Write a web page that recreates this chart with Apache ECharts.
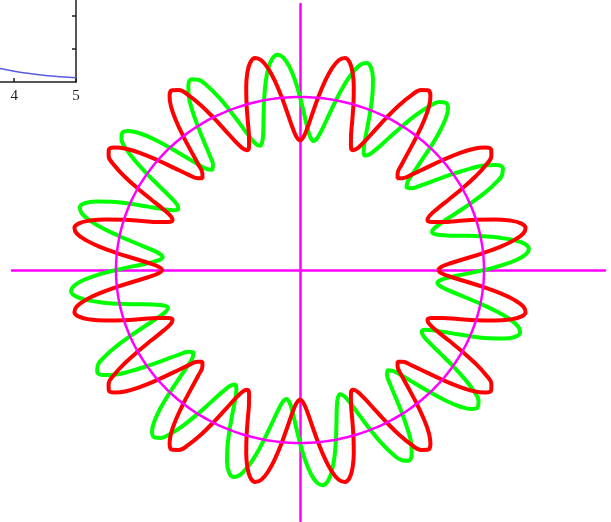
<!DOCTYPE html>
<html>
<head>
<meta charset="utf-8">
<script src="https://cdn.jsdelivr.net/npm/echarts@6/dist/echarts.min.js"></script>
<style>
  html, body { margin: 0; padding: 0; background: #fff; }
  #chart { width: 611px; height: 522px; }
</style>
</head>
<body>
<div id="chart"></div>
<script>
// radius of each curve, read every 1.40625 deg from 0 deg (16 samples per wave, 16 waves)
const angleStep = 1.40625;

const redRadius = [
    0.75, 0.769, 0.823, 0.904, 1, 1.096, 1.177, 1.231, 1.25, 1.231, 1.177, 1.096, 1, 0.904, 0.823, 0.769,
    0.75, 0.769, 0.823, 0.904, 1, 1.096, 1.177, 1.231, 1.25, 1.231, 1.177, 1.096, 1, 0.904, 0.823, 0.769,
    0.75, 0.769, 0.823, 0.904, 1, 1.096, 1.177, 1.231, 1.25, 1.231, 1.177, 1.096, 1, 0.904, 0.823, 0.769,
    0.75, 0.769, 0.823, 0.904, 1, 1.096, 1.177, 1.231, 1.25, 1.231, 1.177, 1.096, 1, 0.904, 0.823, 0.769,
    0.75, 0.769, 0.823, 0.904, 1, 1.096, 1.177, 1.231, 1.25, 1.231, 1.177, 1.096, 1, 0.904, 0.823, 0.769,
    0.75, 0.769, 0.823, 0.904, 1, 1.096, 1.177, 1.231, 1.25, 1.231, 1.177, 1.096, 1, 0.904, 0.823, 0.769,
    0.75, 0.769, 0.823, 0.904, 1, 1.096, 1.177, 1.231, 1.25, 1.231, 1.177, 1.096, 1, 0.904, 0.823, 0.769,
    0.75, 0.769, 0.823, 0.904, 1, 1.096, 1.177, 1.231, 1.25, 1.231, 1.177, 1.096, 1, 0.904, 0.823, 0.769,
    0.75, 0.769, 0.823, 0.904, 1, 1.096, 1.177, 1.231, 1.25, 1.231, 1.177, 1.096, 1, 0.904, 0.823, 0.769,
    0.75, 0.769, 0.823, 0.904, 1, 1.096, 1.177, 1.231, 1.25, 1.231, 1.177, 1.096, 1, 0.904, 0.823, 0.769,
    0.75, 0.769, 0.823, 0.904, 1, 1.096, 1.177, 1.231, 1.25, 1.231, 1.177, 1.096, 1, 0.904, 0.823, 0.769,
    0.75, 0.769, 0.823, 0.904, 1, 1.096, 1.177, 1.231, 1.25, 1.231, 1.177, 1.096, 1, 0.904, 0.823, 0.769,
    0.75, 0.769, 0.823, 0.904, 1, 1.096, 1.177, 1.231, 1.25, 1.231, 1.177, 1.096, 1, 0.904, 0.823, 0.769,
    0.75, 0.769, 0.823, 0.904, 1, 1.096, 1.177, 1.231, 1.25, 1.231, 1.177, 1.096, 1, 0.904, 0.823, 0.769,
    0.75, 0.769, 0.823, 0.904, 1, 1.096, 1.177, 1.231, 1.25, 1.231, 1.177, 1.096, 1, 0.904, 0.823, 0.769,
    0.75, 0.769, 0.823, 0.904, 1, 1.096, 1.177, 1.231, 1.25, 1.231, 1.177, 1.096, 1, 0.904, 0.823, 0.769
];

const greenRadius = [
    1, 1.096, 1.177, 1.231, 1.25, 1.231, 1.177, 1.096, 1, 0.904, 0.823, 0.769, 0.75, 0.769, 0.823, 0.904,
    1, 1.096, 1.177, 1.231, 1.25, 1.231, 1.177, 1.096, 1, 0.904, 0.823, 0.769, 0.75, 0.769, 0.823, 0.904,
    1, 1.096, 1.177, 1.231, 1.25, 1.231, 1.177, 1.096, 1, 0.904, 0.823, 0.769, 0.75, 0.769, 0.823, 0.904,
    1, 1.096, 1.177, 1.231, 1.25, 1.231, 1.177, 1.096, 1, 0.904, 0.823, 0.769, 0.75, 0.769, 0.823, 0.904,
    1, 1.096, 1.177, 1.231, 1.25, 1.231, 1.177, 1.096, 1, 0.904, 0.823, 0.769, 0.75, 0.769, 0.823, 0.904,
    1, 1.096, 1.177, 1.231, 1.25, 1.231, 1.177, 1.096, 1, 0.904, 0.823, 0.769, 0.75, 0.769, 0.823, 0.904,
    1, 1.096, 1.177, 1.231, 1.25, 1.231, 1.177, 1.096, 1, 0.904, 0.823, 0.769, 0.75, 0.769, 0.823, 0.904,
    1, 1.096, 1.177, 1.231, 1.25, 1.231, 1.177, 1.096, 1, 0.904, 0.823, 0.769, 0.75, 0.769, 0.823, 0.904,
    1, 1.096, 1.177, 1.231, 1.25, 1.231, 1.177, 1.096, 1, 0.904, 0.823, 0.769, 0.75, 0.769, 0.823, 0.904,
    1, 1.096, 1.177, 1.231, 1.25, 1.231, 1.177, 1.096, 1, 0.904, 0.823, 0.769, 0.75, 0.769, 0.823, 0.904,
    1, 1.096, 1.177, 1.231, 1.25, 1.231, 1.177, 1.096, 1, 0.904, 0.823, 0.769, 0.75, 0.769, 0.823, 0.904,
    1, 1.096, 1.177, 1.231, 1.25, 1.231, 1.177, 1.096, 1, 0.904, 0.823, 0.769, 0.75, 0.769, 0.823, 0.904,
    1, 1.096, 1.177, 1.231, 1.25, 1.231, 1.177, 1.096, 1, 0.904, 0.823, 0.769, 0.75, 0.769, 0.823, 0.904,
    1, 1.096, 1.177, 1.231, 1.25, 1.231, 1.177, 1.096, 1, 0.904, 0.823, 0.769, 0.75, 0.769, 0.823, 0.904,
    1, 1.096, 1.177, 1.231, 1.25, 1.231, 1.177, 1.096, 1, 0.904, 0.823, 0.769, 0.75, 0.769, 0.823, 0.904,
    1, 1.096, 1.177, 1.231, 1.25, 1.231, 1.177, 1.096, 1, 0.904, 0.823, 0.769, 0.75, 0.769, 0.823, 0.904
];

const circleRadius = 1;

// the cut-off plot in the top left corner
const cornerX = [3.7, 3.8, 4.0, 4.25, 4.5, 4.75, 5.0];
const cornerY = [0.44, 0.40, 0.325, 0.256, 0.198, 0.158, 0.13];
const cornerXTicks = [4, 5];
const cornerYTicks = [1, 2];

function polarToXY(radii) {
    const pts = radii.map((r, i) => {
        const a = i * angleStep * Math.PI / 180;
        return [r * Math.cos(a), r * Math.sin(a)];
    });
    pts.push(pts[0]);
    return pts;
}

const chart = echarts.init(document.getElementById("chart"));

const magenta = "#ff00ff";
const frameColor = "#1e1e1e";

const option = {
    animation: false,
    grid: [
        { left: 12, right: 6, top: 4, bottom: 1 },
        { left: 0, right: 535, top: 0, bottom: 440 }
    ],
    xAxis: [
        {
            type: "value",
            min: -1.5652,
            max: 1.6576,
            axisLine: { onZero: true, lineStyle: { color: magenta, width: 2.5 } },
            axisTick: { show: false },
            axisLabel: { show: false },
            splitLine: { show: false }
        },
        {
            type: "value",
            gridIndex: 1,
            position: "bottom",
            min: 3.77,
            max: 5,
            axisLine: { onZero: false, lineStyle: { color: frameColor, width: 1.5 } },
            axisTick: {
                inside: true,
                length: 4,
                customValues: cornerXTicks,
                lineStyle: { color: frameColor, width: 1.5 }
            },
            axisLabel: {
                customValues: cornerXTicks,
                color: frameColor,
                fontFamily: "Liberation Serif",
                fontSize: 15,
                margin: 7
            },
            splitLine: { show: false }
        }
    ],
    yAxis: [
        {
            type: "value",
            min: -1.4509,
            max: 1.5376,
            axisLine: { onZero: true, lineStyle: { color: magenta, width: 2.5 } },
            axisTick: { show: false },
            axisLabel: { show: false },
            splitLine: { show: false }
        },
        {
            type: "value",
            gridIndex: 1,
            position: "right",
            min: 0,
            max: 2.485,
            axisLine: { show: true, onZero: false, lineStyle: { color: frameColor, width: 1.5 } },
            axisTick: {
                inside: true,
                length: 4,
                customValues: cornerYTicks,
                lineStyle: { color: frameColor, width: 1.5 }
            },
            axisLabel: { show: false },
            splitLine: { show: false }
        }
    ],
    series: [
        {
            type: "line",
            data: polarToXY(greenRadius),
            showSymbol: false,
            smooth: 0.4,
            lineStyle: { color: "#00ff00", width: 4 },
            z: 2
        },
        {
            type: "line",
            data: polarToXY(redRadius),
            showSymbol: false,
            smooth: 0.4,
            lineStyle: { color: "#ff0000", width: 4 },
            z: 3
        },
        {
            type: "line",
            data: polarToXY(redRadius.map(() => circleRadius)),
            showSymbol: false,
            smooth: 0.4,
            lineStyle: { color: magenta, width: 2.5 },
            z: 4
        },
        {
            type: "line",
            xAxisIndex: 1,
            yAxisIndex: 1,
            data: cornerX.map((x, i) => [x, cornerY[i]]),
            showSymbol: false,
            smooth: true,
            lineStyle: { color: "#5a5ae0", width: 1.4 }
        }
    ]
};

chart.setOption(option);
</script>
</body>
</html>
